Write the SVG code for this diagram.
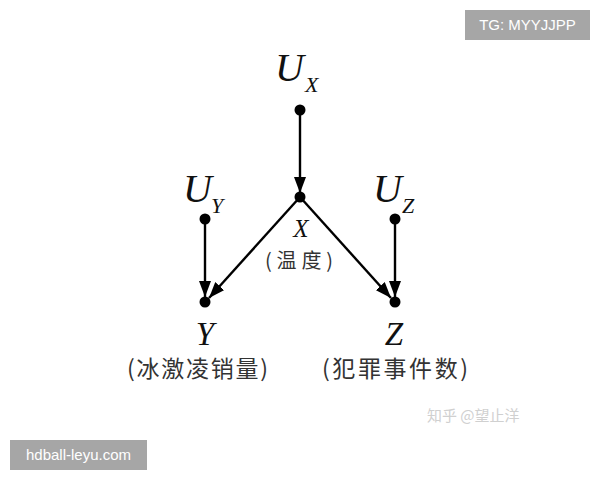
<svg xmlns="http://www.w3.org/2000/svg" width="600" height="480" viewBox="0 0 600 480">
<defs>
<marker id="ahb" viewBox="0 0 16 12" refX="16" refY="6" markerWidth="16" markerHeight="12" markerUnits="userSpaceOnUse" orient="auto">
<path d="M0,0 L16,6 L0,12 z" fill="#000"/>
</marker>
</defs>
<style>
.v{font-family:"Liberation Serif",serif;font-style:italic;fill:#111}
.big{font-size:40px}
.sub{font-size:22px}
.mid{font-size:25px}
.lbl{font-size:33px}
.cn{font-family:"Noto Sans CJK SC",sans-serif;font-size:23px;fill:#333}
.cns{font-size:20px}
.dot{fill:#000}
.edge{stroke:#000;stroke-width:2.4;fill:none;marker-end:url(#ahb)}
.wm{font-family:"Liberation Sans",sans-serif;font-size:15px;fill:#fff}
</style>
<rect width="600" height="480" fill="#fff"/>
<g id="connectors">
<line class="edge" x1="300" y1="110" x2="300" y2="193"/>
<line class="edge" x1="205" y1="219" x2="205" y2="297"/>
<line class="edge" x1="395" y1="219" x2="395" y2="297"/>
<line class="edge" x1="300" y1="197" x2="209" y2="298"/>
<line class="edge" x1="300" y1="197" x2="391" y2="298"/>
</g>
<g id="Ux">
<circle class="dot" cx="300" cy="110" r="5.5"/>
<text class="v big" x="275" y="81">U</text>
<text class="v sub" x="305" y="92">X</text>
</g>
<g id="Uy">
<circle class="dot" cx="205" cy="219" r="5.5"/>
<text class="v big" x="183" y="202">U</text>
<text class="v sub" x="211" y="213">Y</text>
</g>
<g id="Uz">
<circle class="dot" cx="395" cy="219" r="5.5"/>
<text class="v big" x="373" y="202">U</text>
<text class="v sub" x="402" y="213">Z</text>
</g>
<g id="X">
<circle class="dot" cx="300" cy="197" r="5.5"/>
<text class="v mid" x="301" y="237" text-anchor="middle">X</text>
<text class="cn cns" x="265" y="268" textLength="68" lengthAdjust="spacing">(温度)</text>
</g>
<g id="Y">
<circle class="dot" cx="205" cy="302" r="5.5"/>
<text class="v lbl" x="205" y="345" text-anchor="middle">Y</text>
<text class="cn" x="127" y="377" textLength="141" lengthAdjust="spacing">(冰激凌销量)</text>
</g>
<g id="Z">
<circle class="dot" cx="395" cy="302" r="5.5"/>
<text class="v lbl" x="394" y="345" text-anchor="middle">Z</text>
<text class="cn" x="322" y="377" textLength="146" lengthAdjust="spacing">(犯罪事件数)</text>
</g>
<text x="427" y="421" font-family="'Noto Sans CJK SC',sans-serif" font-size="15" fill="#d0d0d0">知乎 @望止洋</text>
<rect x="465" y="10" width="125" height="30" fill="#a6a6a6"/>
<text class="wm" x="527.5" y="30" text-anchor="middle">TG: MYYJJPP</text>
<rect x="10" y="440" width="137" height="30" fill="#a6a6a6"/>
<text class="wm" x="78.5" y="460" text-anchor="middle">hdball-leyu.com</text>
</svg>
